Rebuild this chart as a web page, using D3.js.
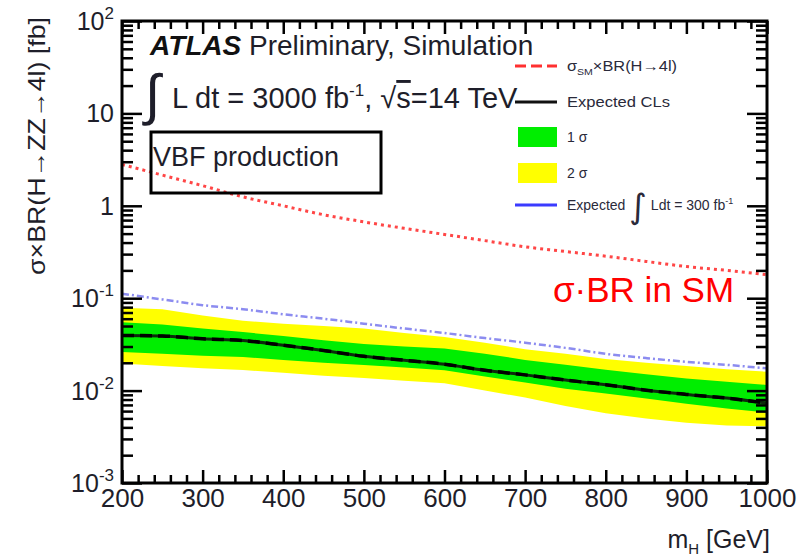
<!DOCTYPE html>
<html>
<head>
<meta charset="utf-8">
<script src="https://cdn.jsdelivr.net/npm/d3@7"></script>
<style>
  body { margin: 0; background: #fff; }
  text { font-family: "Liberation Sans", Arial, Helvetica, sans-serif; }
</style>
</head>
<body>
<div id="chart"></div>
<script>
// Higgs mass points (GeV)
var massPoints = [200, 250, 300, 350, 400, 450, 500, 550, 600, 650, 700, 750, 800, 850, 900, 950, 1000];
// SM sigma x BR (fb)
var smXsec = [2.8, 2.15, 1.65, 1.25, 1.0, 0.80, 0.67, 0.57, 0.49, 0.42, 0.36, 0.32, 0.285, 0.25, 0.22, 0.20, 0.18];
// expected CLs limit, 3000 fb-1
var expected3000 = [0.0395, 0.039, 0.0364, 0.0348, 0.031, 0.0272, 0.0235, 0.0213, 0.0193, 0.0166, 0.0148, 0.013, 0.0116, 0.0101, 0.0091, 0.0083, 0.0073];
// expected limit, 300 fb-1
var expected300 = [0.112, 0.097, 0.084, 0.076, 0.067, 0.060, 0.053, 0.047, 0.042, 0.037, 0.033, 0.029, 0.025, 0.0225, 0.0205, 0.019, 0.0174];
// +-1 sigma and +-2 sigma bands
var band2Up = [0.079, 0.076, 0.065, 0.057, 0.053, 0.050, 0.047, 0.042, 0.038, 0.033, 0.028, 0.025, 0.022, 0.020, 0.0185, 0.017, 0.016];
var band1Up = [0.055, 0.052, 0.047, 0.043, 0.039, 0.035, 0.032, 0.030, 0.0285, 0.025, 0.0215, 0.019, 0.0168, 0.015, 0.0135, 0.0125, 0.0115];
var band1Dn = [0.0262, 0.025, 0.0238, 0.0231, 0.0215, 0.020, 0.0189, 0.0178, 0.0166, 0.0142, 0.0122, 0.0105, 0.0093, 0.0082, 0.0072, 0.0064, 0.0058];
var band2Dn = [0.0196, 0.0185, 0.0175, 0.0167, 0.0156, 0.0145, 0.0137, 0.0128, 0.012, 0.0100, 0.0084, 0.0068, 0.0057, 0.0050, 0.0045, 0.0042, 0.0041];

var xTicks = [200, 300, 400, 500, 600, 700, 800, 900, 1000];
var yTickVals = [1e-3, 1e-2, 1e-1, 1, 10, 100];
var yTickBase = ['10', '10', '10', '1', '10', '10'];
var yTickExp = ['-3', '-2', '-1', '', '', '2'];

var W = 798, H = 557;
var fL = 122, fT = 21, fR = 767, fB = 483; // frame
var ink = '#1e1e2a';

var svg = d3.select('#chart').append('svg')
  .attr('width', W).attr('height', H);

var x = d3.scaleLinear().domain([200, 1000]).range([fL, fR]);
var y = d3.scaleLog().domain([1e-3, 1e2]).range([fB, fT]);

var rows = massPoints.map(function(m, i) {
  return { m: m, sm: smXsec[i], exp: expected3000[i], exp300: expected300[i],
    u1: band1Up[i], d1: band1Dn[i], u2: band2Up[i], d2: band2Dn[i] };
});

var plot = svg.append('g');
var band = function(lo, hi) {
  return d3.area()
    .x(function(d) { return x(d.m); })
    .y0(function(d) { return y(d[lo]); })
    .y1(function(d) { return y(d[hi]); });
};
var line = function(key) {
  return d3.line()
    .curve(d3.curveMonotoneX)
    .x(function(d) { return x(d.m); })
    .y(function(d) { return y(d[key]); });
};

plot.append('path').datum(rows).attr('d', band('d2', 'u2')).attr('fill', '#ffff00');
plot.append('path').datum(rows).attr('d', band('d1', 'u1')).attr('fill', '#00ee00');
plot.append('path').datum(rows).attr('d', line('exp300'))
  .attr('fill', 'none').attr('stroke', '#8c8cf0').attr('stroke-width', 2.5)
  .attr('stroke-dasharray', '7,3,2,3');
plot.append('path').datum(rows).attr('d', line('sm'))
  .attr('fill', 'none').attr('stroke', '#ff4646').attr('stroke-width', 3)
  .attr('stroke-dasharray', '3,4');
plot.append('path').datum(rows).attr('d', line('exp'))
  .attr('fill', 'none').attr('stroke', '#0b2a0b').attr('stroke-width', 3);
plot.append('path').datum(rows).attr('d', line('exp'))
  .attr('fill', 'none').attr('stroke', '#000').attr('stroke-width', 3.5)
  .attr('stroke-dasharray', '12,6');

// ticks (ROOT style, inside the frame on all sides)
var xMinor = d3.range(200, 1001, 20).filter(function(v) { return v % 100 !== 0; });
var yMinor = y.ticks().filter(function(v) { return yTickVals.indexOf(v) < 0; });

function tickAxis(axis, tr) {
  var g = svg.append('g').attr('transform', tr).call(axis);
  g.select('.domain').remove();
  g.selectAll('line').attr('stroke', '#000').attr('stroke-width', 2.5);
  return g;
}
tickAxis(d3.axisBottom(x).tickValues(xMinor).tickSize(-8).tickFormat(''), 'translate(0,' + fB + ')');
tickAxis(d3.axisTop(x).tickValues(xMinor).tickSize(-8).tickFormat(''), 'translate(0,' + fT + ')');
tickAxis(d3.axisTop(x).tickValues(xTicks).tickSize(-13).tickFormat(''), 'translate(0,' + fT + ')');
var xAx = tickAxis(d3.axisBottom(x).tickValues(xTicks).tickSizeInner(-13).tickSizeOuter(0)
  .tickPadding(6).tickFormat(d3.format('d')), 'translate(0,' + fB + ')');
xAx.attr('font-family', null).attr('font-size', null);
xAx.selectAll('text').attr('font-size', 26).attr('fill', ink);

tickAxis(d3.axisLeft(y).tickValues(yMinor).tickSize(-11).tickFormat(''), 'translate(' + fL + ',0)');
tickAxis(d3.axisLeft(y).tickValues(yTickVals).tickSize(-20).tickFormat(''), 'translate(' + fL + ',0)');
tickAxis(d3.axisRight(y).tickValues(yMinor).tickSize(-11).tickFormat(''), 'translate(' + fR + ',0)');
tickAxis(d3.axisRight(y).tickValues(yTickVals).tickSize(-20).tickFormat(''), 'translate(' + fR + ',0)');

// y labels with exponents
var yl = svg.append('g').selectAll('text').data(yTickVals).enter().append('text')
  .attr('x', fL - 8)
  .attr('y', function(d) { return y(d) + 9; })
  .attr('text-anchor', 'end')
  .attr('font-size', 25)
  .attr('fill', ink);
yl.append('tspan').text(function(d, i) { return yTickBase[i]; });
yl.append('tspan').attr('dy', -11).attr('font-size', 17)
  .text(function(d, i) { return yTickExp[i]; });

// frame
svg.append('rect').attr('x', fL).attr('y', fT)
  .attr('width', fR - fL).attr('height', fB - fT)
  .attr('fill', 'none').attr('stroke', '#000').attr('stroke-width', 3);

// axis titles
svg.append('text')
  .attr('transform', 'translate(45,17) rotate(-90)')
  .attr('text-anchor', 'end').attr('font-size', 24).attr('fill', ink)
  .attr('textLength', 258).attr('lengthAdjust', 'spacingAndGlyphs')
  .text('σ×BR(H→ZZ→4l) [fb]');

var xt = svg.append('text').attr('x', 770).attr('y', 548)
  .attr('text-anchor', 'end').attr('font-size', 25).attr('fill', ink);
xt.append('tspan').text('m');
xt.append('tspan').attr('dy', 6).attr('font-size', 15).text('H');
xt.append('tspan').attr('dy', -6).text(' [GeV]');

// header
var h1 = svg.append('text').attr('x', 150).attr('y', 55).attr('font-size', 28).attr('fill', ink);
h1.append('tspan').attr('font-weight', 'bold').attr('font-style', 'italic').attr('fill', '#111').text('ATLAS');
h1.append('tspan').text(' Preliminary, Simulation');

svg.append('text').attr('x', 145).attr('y', 114).attr('font-size', 56)
  .attr('fill', ink).attr('font-family', 'DejaVu Sans').text('∫');
var h2 = svg.append('text').attr('x', 172).attr('y', 108).attr('font-size', 29).attr('fill', ink);
h2.append('tspan').text('L dt = 3000 fb');
h2.append('tspan').attr('dy', -12).attr('font-size', 17).text('-1');
h2.append('tspan').attr('dy', 12).text(', √');
h2.append('tspan').style('text-decoration', 'overline').text('s');
h2.append('tspan').text('=14 TeV');

svg.append('rect').attr('x', 151).attr('y', 132).attr('width', 230).attr('height', 61)
  .attr('fill', 'none').attr('stroke', '#000').attr('stroke-width', 3);
svg.append('text').attr('x', 153).attr('y', 166).attr('font-size', 27)
  .attr('fill', ink).text('VBF production');

// legend
var legY = [66, 102, 137, 173, 205];
var lg = svg.append('g');
lg.append('line').attr('x1', 515).attr('x2', 557).attr('y1', legY[0]).attr('y2', legY[0])
  .attr('stroke', '#ff3030').attr('stroke-width', 3).attr('stroke-dasharray', '11,5');
lg.append('line').attr('x1', 515).attr('x2', 557).attr('y1', legY[1]).attr('y2', legY[1])
  .attr('stroke', '#111').attr('stroke-width', 3);
lg.append('rect').attr('x', 518).attr('y', legY[2] - 10).attr('width', 39).attr('height', 20).attr('fill', '#00ee00');
lg.append('rect').attr('x', 518).attr('y', legY[3] - 10).attr('width', 39).attr('height', 20).attr('fill', '#ffff00');
lg.append('line').attr('x1', 515).attr('x2', 557).attr('y1', legY[4]).attr('y2', legY[4])
  .attr('stroke', '#3b3bff').attr('stroke-width', 3);

var lt = function(i) {
  return lg.append('text').attr('x', 567).attr('y', legY[i] + 5)
    .attr('font-size', 14).attr('fill', '#2a2a3a');
};
var t0 = lt(0).attr('textLength', 110).attr('lengthAdjust', 'spacingAndGlyphs');
t0.append('tspan').text('σ');
t0.append('tspan').attr('dy', 4).attr('font-size', 9).text('SM');
t0.append('tspan').attr('dy', -4).text('×BR(H→4l)');
lt(1).attr('textLength', 103).attr('lengthAdjust', 'spacingAndGlyphs').text('Expected CLs');
lt(2).text('1 σ');
lt(3).text('2 σ');
var t4 = lt(4);
t4.append('tspan').text('Expected ');
t4.append('tspan').attr('font-size', 34).attr('dy', 8).attr('font-family', 'DejaVu Sans').text('∫');
t4.append('tspan').attr('dy', -8).text(' Ldt = 300 fb');
t4.append('tspan').attr('dy', -6).attr('font-size', 9).text('-1');

svg.append('text').attr('x', 553).attr('y', 302).attr('font-size', 35)
  .attr('fill', '#ff0000').text('σ·BR in SM');
</script>
</body>
</html>
